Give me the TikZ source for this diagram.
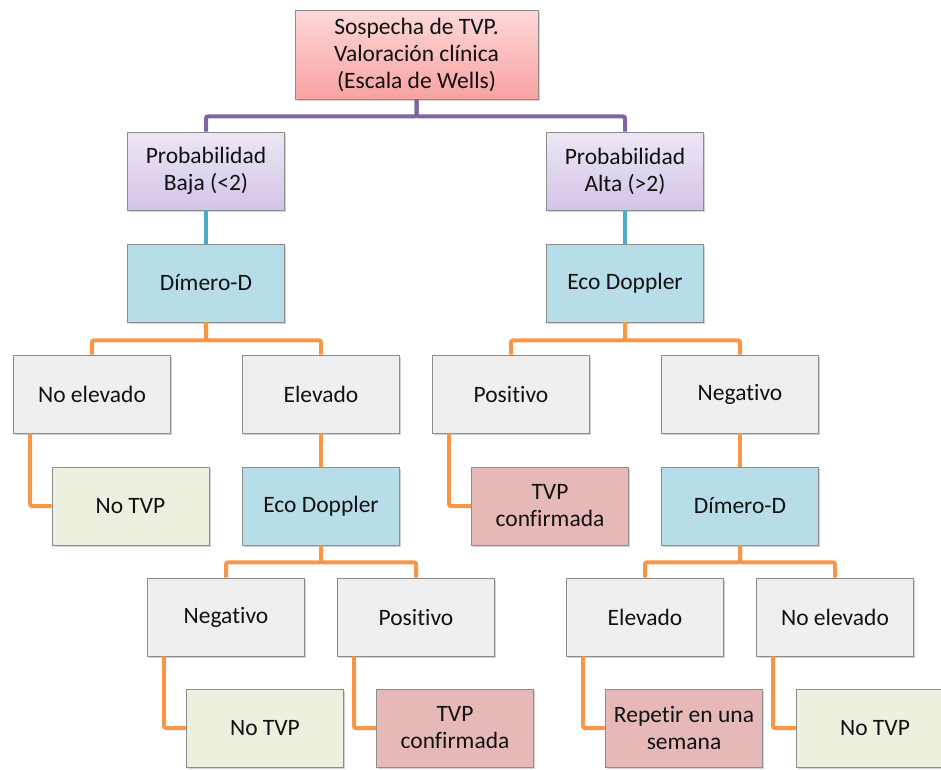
\documentclass[tikz,border=0pt]{standalone}
\usepackage{fontspec}
\setmainfont{Carlito}[Ligatures={NoCommon}]
\usetikzlibrary{shadows}
\definecolor{cpurple}{HTML}{8064A2}
\definecolor{cteal}{HTML}{4BACC6}
\definecolor{corange}{HTML}{F79646}
\definecolor{fblue}{HTML}{B7DDE8}
\definecolor{fgray}{HTML}{EFEFEF}
\definecolor{fgreen}{HTML}{EBF1DE}
\definecolor{fpink}{HTML}{E6B9B8}
\definecolor{ptop}{HTML}{FDD8D8}
\definecolor{pbot}{HTML}{F9A2A2}
\definecolor{ltop}{HTML}{EEE6F6}
\definecolor{lbot}{HTML}{D3C4E7}
\definecolor{txt}{HTML}{111111}
\begin{document}
\begin{tikzpicture}[x=1pt,y=-1pt,
  boxbase/.style={draw=black!45, line width=0.8pt, minimum width=157pt, minimum height=78pt,
    align=center, inner sep=2pt, text=txt,
    font=\fontsize{23.5}{27}\selectfont,
    drop shadow={shadow xshift=1.5pt, shadow yshift=-2pt, opacity=0.35}},
  topbox/.style={boxbase, minimum width=243pt, minimum height=89pt, top color=ptop, bottom color=pbot},
  probbox/.style={boxbase, top color=ltop, bottom color=lbot},
  bluebox/.style={boxbase, fill=fblue},
  graybox/.style={boxbase, fill=fgray},
  greenbox/.style={boxbase, fill=fgreen},
  pinkbox/.style={boxbase, fill=fpink},
  conn/.style={line width=4pt, rounded corners=2pt},
  pconn/.style={conn, draw=cpurple},
  tconn/.style={conn, draw=cteal},
  oconn/.style={conn, draw=corange},
]
\useasboundingbox (0,0) rectangle (941,769);
\node[topbox] (top) at (416.5,54.5) {Sospecha de TVP.\\Valoración clínica\\(Escala de Wells)};
\node[probbox] (baja) at (206,171) {Probabilidad\\Baja (<2)};
\node[probbox] (alta) at (625,171) {Probabilidad\\Alta (>2)};
\node[bluebox] (dimL) at (206,283) {Dímero-D};
\node[bluebox] (ecoR) at (625,283) {Eco Doppler};
\node[graybox] (noElevL) at (92,394) {No elevado};
\node[graybox] (elevL) at (321,394) {Elevado};
\node[graybox] (posR) at (511,394) {Positivo};
\node[graybox] (negR) at (740,394) {Negativo};
\node[greenbox] (noTVP1) at (130.5,506) {No TVP};
\node[bluebox] (ecoM) at (321,506) {Eco Doppler};
\node[pinkbox] (tvp1) at (550,506) {TVP\\confirmada};
\node[bluebox] (dimR) at (740,506) {Dímero-D};
\node[graybox] (negM) at (226,617) {Negativo};
\node[graybox] (posM) at (416,617) {Positivo};
\node[graybox] (elevR) at (645,617) {Elevado};
\node[graybox] (noElevR) at (835,617) {No elevado};
\node[greenbox] (noTVP2) at (265,728) {No TVP};
\node[pinkbox] (tvp2) at (455,728) {TVP\\confirmada};
\node[pinkbox] (rep) at (684,728) {Repetir en una\\semana};
\node[greenbox] (noTVP3) at (875,728) {No TVP};
% connectors
\draw[pconn] (top.south) -- ++(0,17) -| (baja.north);
\draw[pconn] (top.south) -- ++(0,17) -| (alta.north);
\draw[tconn] (baja.south) -- (dimL.north);
\draw[tconn] (alta.south) -- (ecoR.north);
\draw[oconn] (dimL.south) -- ++(0,18) -| (noElevL.north);
\draw[oconn] (dimL.south) -- ++(0,18) -| (elevL.north);
\draw[oconn] (ecoR.south) -- ++(0,18) -| (posR.north);
\draw[oconn] (ecoR.south) -- ++(0,18) -| (negR.north);
\draw[oconn] ([xshift=17pt]noElevL.south west) |- (noTVP1.west);
\draw[oconn] (elevL.south) -- (ecoM.north);
\draw[oconn] ([xshift=17pt]posR.south west) |- (tvp1.west);
\draw[oconn] (negR.south) -- (dimR.north);
\draw[oconn] (ecoM.south) -- ++(0,17) -| (negM.north);
\draw[oconn] (ecoM.south) -- ++(0,17) -| (posM.north);
\draw[oconn] (dimR.south) -- ++(0,17) -| (elevR.north);
\draw[oconn] (dimR.south) -- ++(0,17) -| (noElevR.north);
\draw[oconn] ([xshift=17pt]negM.south west) |- (noTVP2.west);
\draw[oconn] ([xshift=17pt]posM.south west) |- (tvp2.west);
\draw[oconn] ([xshift=17pt]elevR.south west) |- (rep.west);
\draw[oconn] ([xshift=17pt]noElevR.south west) |- (noTVP3.west);
\end{tikzpicture}
\end{document}
